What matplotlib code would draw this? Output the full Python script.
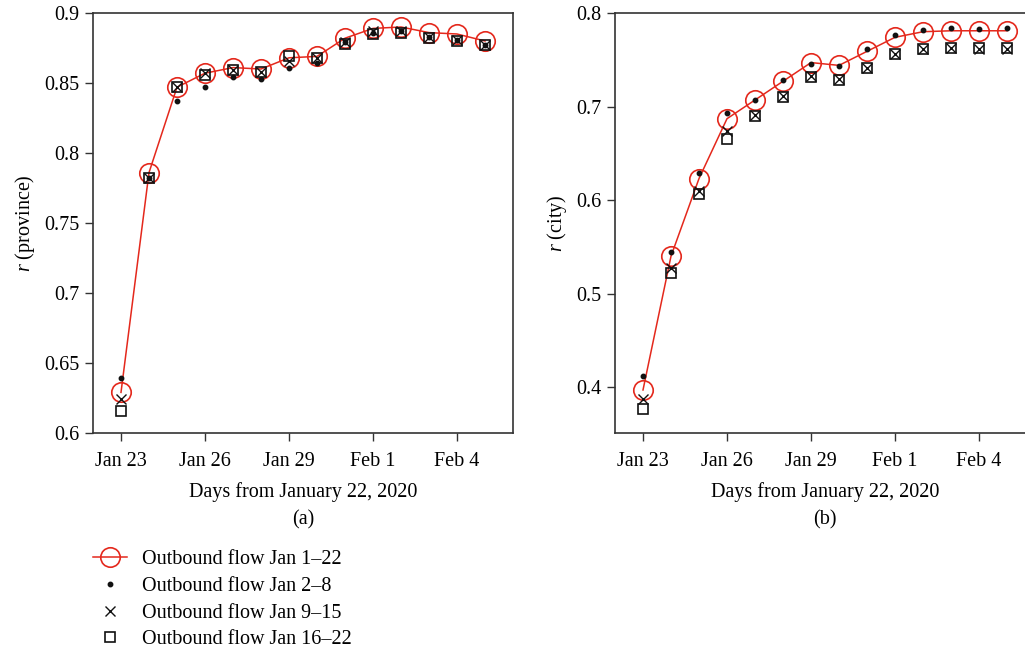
import matplotlib
matplotlib.use("Agg")
import matplotlib.pyplot as plt

plt.rcParams['font.family'] = ['Liberation Serif', 'DejaVu Serif']
plt.rcParams['mathtext.fontset'] = 'custom'
plt.rcParams['mathtext.it'] = 'Liberation Serif:italic'

# Days after January 22, 2020 (Jan 23 = 1 ... Feb 5 = 14)
days = list(range(1, 15))
tick_days = [1, 4, 7, 10, 13]
tick_labels = ['Jan 23', 'Jan 26', 'Jan 29', 'Feb 1', 'Feb 4']

# (a) province level
prov_jan1_22 = [0.629, 0.786, 0.847, 0.857, 0.861, 0.860, 0.868, 0.869,
                0.882, 0.889, 0.890, 0.886, 0.885, 0.880]
prov_jan2_8 = [0.639, 0.782, 0.837, 0.847, 0.854, 0.853, 0.861, 0.864,
               0.879, 0.886, 0.887, 0.883, 0.881, 0.877]
prov_jan9_15 = [0.624, 0.782, 0.847, 0.857, 0.859, 0.858, 0.866, 0.868,
                0.879, 0.887, 0.887, 0.883, 0.881, 0.877]
prov_jan16_22 = [0.616, 0.782, 0.847, 0.856, 0.859, 0.858, 0.869, 0.868,
                 0.878, 0.885, 0.886, 0.882, 0.880, 0.877]

# (b) city level
city_jan1_22 = [0.397, 0.540, 0.623, 0.687, 0.707, 0.727, 0.747, 0.744,
                0.759, 0.774, 0.780, 0.781, 0.781, 0.781]
city_jan2_8 = [0.412, 0.545, 0.629, 0.693, 0.707, 0.728, 0.745, 0.743,
               0.761, 0.776, 0.782, 0.784, 0.783, 0.784]
city_jan9_15 = [0.387, 0.527, 0.610, 0.674, 0.691, 0.711, 0.733, 0.729,
                0.741, 0.756, 0.762, 0.763, 0.762, 0.762]
city_jan16_22 = [0.377, 0.522, 0.606, 0.665, 0.690, 0.710, 0.732, 0.728,
                 0.741, 0.756, 0.762, 0.763, 0.763, 0.763]

labels = ['Outbound flow Jan 1–22', 'Outbound flow Jan 2–8',
          'Outbound flow Jan 9–15', 'Outbound flow Jan 16–22']

red = '#e4281c'
fs = 14.5
W, H = 1025, 652
fig = plt.figure(figsize=(W / 100, H / 100), dpi=100)
ax1 = fig.add_axes([93 / W, 1 - 433 / H, 420 / W, 420 / H])
ax2 = fig.add_axes([615 / W, 1 - 433 / H, 420 / W, 420 / H])


def draw(ax, s1, s2, s3, s4):
    h1, = ax.plot(days, s1, color=red, lw=1.1, marker='o', ms=14,
                  mfc='none', mec=red, mew=1.2, zorder=3)
    h2, = ax.plot(days, s2, ls='none', marker='o', ms=3.2, color='#111111',
                  zorder=4)
    h3, = ax.plot(days, s3, ls='none', marker='x', ms=6.5, mew=1.0,
                  color='#111111', zorder=4)
    h4, = ax.plot(days, s4, ls='none', marker='s', ms=7, mfc='none',
                  mec='#111111', mew=1.2, zorder=4)
    ax.set_xlim(0, 15)
    ax.set_xticks(tick_days)
    ax.set_xticklabels(tick_labels)
    for sp in ax.spines.values():
        sp.set_color('#333333')
        sp.set_linewidth(1.2)
    ax.tick_params(direction='out', length=6, width=1, color='#333333',
                   labelsize=fs)
    ax.tick_params(axis='x', pad=8)
    ax.tick_params(axis='y', pad=4)
    ax.set_xlabel('Days from January 22, 2020', fontsize=fs, labelpad=8)
    return [h1, h2, h3, h4]


handles = draw(ax1, prov_jan1_22, prov_jan2_8, prov_jan9_15, prov_jan16_22)
ax1.set_ylim(0.6, 0.9)
ax1.set_yticks([0.6, 0.65, 0.7, 0.75, 0.8, 0.85, 0.9])
ax1.set_yticklabels(['0.6', '0.65', '0.7', '0.75', '0.8', '0.85', '0.9'])
ax1.set_ylabel(r'$r$ (province)', fontsize=fs, labelpad=5)
ax1.text(0.5, -0.207, '(a)', transform=ax1.transAxes, ha='center',
         va='center', fontsize=fs)

draw(ax2, city_jan1_22, city_jan2_8, city_jan9_15, city_jan16_22)
ax2.set_ylim(0.351, 0.8)
ax2.set_yticks([0.4, 0.5, 0.6, 0.7, 0.8])
ax2.set_yticklabels(['0.4', '0.5', '0.6', '0.7', '0.8'])
ax2.set_ylabel(r'$r$ (city)', fontsize=fs, labelpad=5)
ax2.text(0.5, -0.207, '(b)', transform=ax2.transAxes, ha='center',
         va='center', fontsize=fs)

fig.legend(handles, labels, loc='upper left', bbox_to_anchor=(93 / W, 1 - 550 / H),
           frameon=False, fontsize=fs, handlelength=1.7, handletextpad=0.75,
           labelspacing=0.38, borderpad=0, borderaxespad=0)

fig.savefig('out.png', dpi=100)
